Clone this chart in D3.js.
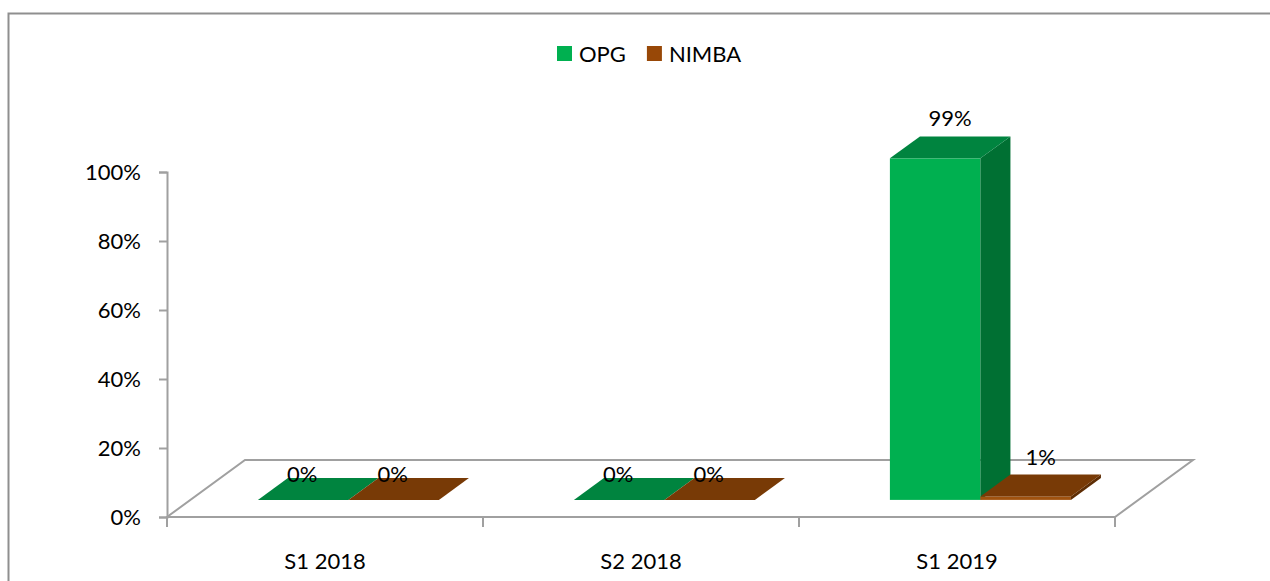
<!DOCTYPE html>
<html><head><meta charset="utf-8">
<script src="https://cdn.jsdelivr.net/npm/d3@7"></script>
<style>
html,body{margin:0;padding:0;background:#fff;}
svg{display:block;}
text{font-family:Lato,"Open Sans",sans-serif;fill:#000;}
</style></head>
<body>
<svg id="c" width="1270" height="581"></svg>
<script>
const categories = ["S1 2018", "S2 2018", "S1 2019"];
const seriesNames = ["OPG", "NIMBA"];
const opgValues = [0, 0, 0.99];
const nimbaValues = [0, 0, 0.01];
const yTicks = [0, 0.2, 0.4, 0.6, 0.8, 1.0];
const valueLabels = [["0%", "0%", "99%"], ["0%", "0%", "1%"]];

const colors = {
  OPG: {front: "#00B050", top: "#00843F", side: "#007033", legend: "#00B050"},
  NIMBA: {front: "#A0520E", top: "#783A06", side: "#5E2D04", legend: "#984807"}
};

const svg = d3.select("#c");
const W = 1270, H = 581;

// frame
svg.append("rect").attr("x", 8.5).attr("y", 13.5).attr("width", 1400).attr("height", 700)
  .attr("fill", "none").attr("stroke", "#8f8f8f").attr("stroke-width", 2);

const x0 = 167, x1 = 1115, yBase = 517, yTop = 172;
const depth = [78, -57];
const frontFrac = 0.3, barFrac = 0.385;

const x = d3.scaleBand().domain(categories).range([x0, x1]);
const xs = d3.scaleBand().domain(seriesNames).range([-90.5, 90.5]);
const y = d3.scaleLinear().domain([0, 1]).range([yBase, yTop]);

const axisColor = "#a0a0a0";

// floor
const floorPts = [[x0, yBase], [x1, yBase], [x1 + depth[0], yBase + depth[1]], [x0 + depth[0], yBase + depth[1]]];
svg.append("polygon").attr("points", floorPts.map(p => p.join(",")).join(" "))
  .attr("fill", "none").attr("stroke", axisColor).attr("stroke-width", 2);

// y axis
const yAxis = d3.axisLeft(y).tickValues(yTicks).tickFormat(d3.format(".0%")).tickSizeOuter(0).tickSize(8).tickPadding(18);
const gy = svg.append("g").attr("transform", `translate(${x0},0)`).call(yAxis);
gy.select(".domain").attr("stroke", axisColor).attr("stroke-width", 2);
gy.selectAll(".tick line").attr("stroke", axisColor).attr("stroke-width", 2);
gy.selectAll(".tick text").attr("font-size", 22).attr("font-family", "Lato").attr("fill", "#000").attr("dy", "0.36em");

// x axis
const xAxis = d3.axisBottom(x).tickSize(0).tickPadding(36);
const gx = svg.append("g").attr("transform", `translate(0,${yBase})`).call(xAxis);
gx.select(".domain").remove();
gx.selectAll(".tick text").attr("font-size", 22).attr("font-family", "Lato").attr("fill", "#000");
// category boundary ticks
const bounds = categories.map(c => x(c)).concat([x1]);
svg.append("g").selectAll("line").data(bounds).join("line")
  .attr("x1", d => d).attr("x2", d => d).attr("y1", yBase).attr("y2", yBase + 10)
  .attr("stroke", axisColor).attr("stroke-width", 2);

// bars
const fdx = depth[0] * frontFrac, fdy = depth[1] * frontFrac;
const bdx = depth[0] * barFrac, bdy = depth[1] * barFrac;
const seriesData = [opgValues, nimbaValues];
const bars = [];
categories.forEach((c, ci) => {
  seriesNames.forEach((s, si) => {
    bars.push({cat: c, series: s, v: seriesData[si][ci], label: valueLabels[si][ci]});
  });
});
const gBars = svg.append("g");
bars.forEach(b => {
  const cx = x(b.cat) + x.bandwidth() / 2;
  const left = cx + xs(b.series) + fdx;
  const right = left + xs.bandwidth();
  const bottom = yBase + fdy;
  const top = y(b.v) + fdy;
  const col = colors[b.series];
  const g = gBars.append("g");
  if (b.v > 0) {
    g.append("rect").attr("x", left).attr("y", top).attr("width", right - left).attr("height", bottom - top).attr("fill", col.front);
    g.append("polygon").attr("points", [[right, top], [right + bdx, top + bdy], [right + bdx, bottom + bdy], [right, bottom]].map(p => p.join(",")).join(" ")).attr("fill", col.side);
  }
  g.append("polygon").attr("points", [[left, top], [left + bdx, top + bdy], [right + bdx, top + bdy], [right, top]].map(p => p.join(",")).join(" ")).attr("fill", col.top);
  b.lx = b.v > 0 ? (left + right) / 2 + bdx / 2 : (left + right) / 2 - 1;
  b.ly = b.v > 0 ? top + bdy - 10 : top - 18;
});
svg.append("g").selectAll("text").data(bars).join("text")
  .attr("x", d => d.lx).attr("y", d => d.ly).attr("text-anchor", "middle")
  .attr("font-size", 22).text(d => d.label);

// legend
const leg = svg.append("g");
let lx = 557;
seriesNames.forEach(s => {
  leg.append("rect").attr("x", lx).attr("y", 46).attr("width", 15).attr("height", 15).attr("fill", colors[s].legend);
  const t = leg.append("text").attr("x", lx + 22).attr("y", 61.5).attr("font-size", 22).text(s);
  lx += 22 + t.node().getComputedTextLength() + 21;
});
</script>
</body></html>
